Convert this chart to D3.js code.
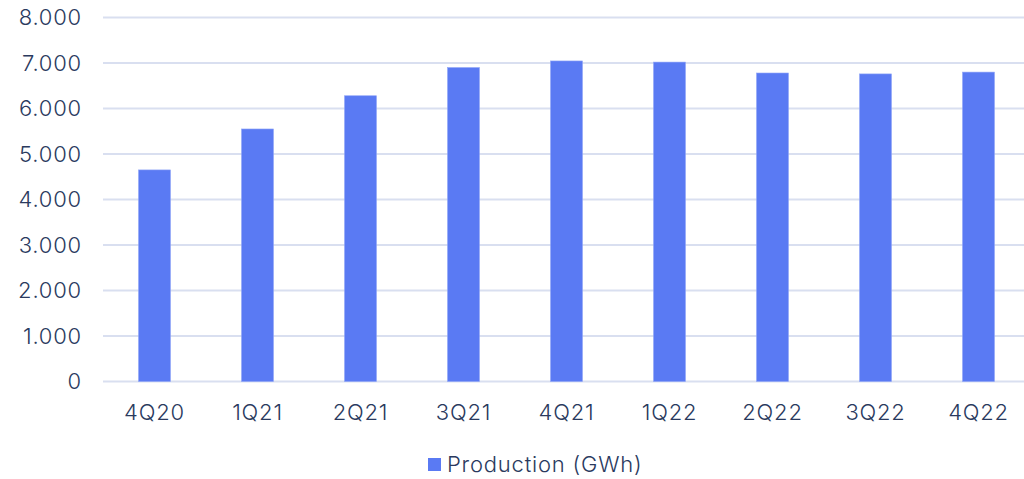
<!DOCTYPE html>
<html>
<head>
<meta charset="utf-8">
<script src="https://cdn.jsdelivr.net/npm/d3@7"></script>
<style>
  body { margin: 0; background: #fff; }
  text { font-family: Inter, "Open Sans", sans-serif; fill: #2a3a5e; font-weight: 350; letter-spacing: 0.8px; }
</style>
</head>
<body>
<div id="chart"></div>
<script>
var categories = ["4Q20", "1Q21", "2Q21", "3Q21", "4Q21", "1Q22", "2Q22", "3Q22", "4Q22"];
var production = [4650, 5550, 6280, 6900, 7045, 7020, 6780, 6760, 6800];
var yTicks = [0, 1000, 2000, 3000, 4000, 5000, 6000, 7000, 8000];
var seriesName = "Production (GWh)";

var width = 1024, height = 479;
var margin = {top: 17.5, right: -6, bottom: 97.5, left: 103};

var svg = d3.select("#chart").append("svg")
    .attr("width", width)
    .attr("height", height);

var x = d3.scaleBand()
    .domain(categories)
    .range([margin.left, width - margin.right])
    .paddingInner(0.69)
    .paddingOuter(0.345);

var y = d3.scaleLinear()
    .domain([0, 8000])
    .range([height - margin.bottom, margin.top]);

var fmt = function(d) { return d3.format(",")(d).replace(/,/g, "."); };

// grid lines
svg.append("g")
    .selectAll("line")
    .data(yTicks)
    .enter().append("line")
    .attr("x1", margin.left)
    .attr("x2", width)
    .attr("y1", function(d) { return y(d); })
    .attr("y2", function(d) { return y(d); })
    .style("stroke", "#d9dff0")
    .style("stroke-width", 2);

// y labels
svg.append("g")
    .selectAll("text")
    .data(yTicks)
    .enter().append("text")
    .attr("x", 82)
    .attr("y", function(d) { return y(d); })
    .attr("dy", "0.35em")
    .attr("text-anchor", "end")
    .style("font-size", "22px")
    .text(fmt);

// bars
svg.append("g")
    .selectAll("rect")
    .data(production)
    .enter().append("rect")
    .attr("x", function(d, i) { return x(categories[i]); })
    .attr("width", x.bandwidth())
    .attr("y", function(d) { return y(d); })
    .attr("height", function(d) { return y(0) - y(d); })
    .style("fill", "#5a7af3")
    .style("stroke", "#8ea3f7")
    .style("stroke-width", 0.6);

// x labels
svg.append("g")
    .selectAll("text")
    .data(categories)
    .enter().append("text")
    .attr("x", function(d) { return x(d) + x.bandwidth() / 2; })
    .attr("y", 412)
    .attr("dy", "0.35em")
    .attr("text-anchor", "middle")
    .style("font-size", "22px")
    .text(function(d) { return d; });

// legend
var legend = svg.append("g").attr("transform", "translate(428,458)");
legend.append("rect")
    .attr("width", 13)
    .attr("height", 13)
    .style("fill", "#5a7af3");
legend.append("text")
    .attr("x", 19)
    .attr("y", 6.5)
    .attr("dy", "0.35em")
    .style("font-size", "22px")
    .text(seriesName);
</script>
</body>
</html>
